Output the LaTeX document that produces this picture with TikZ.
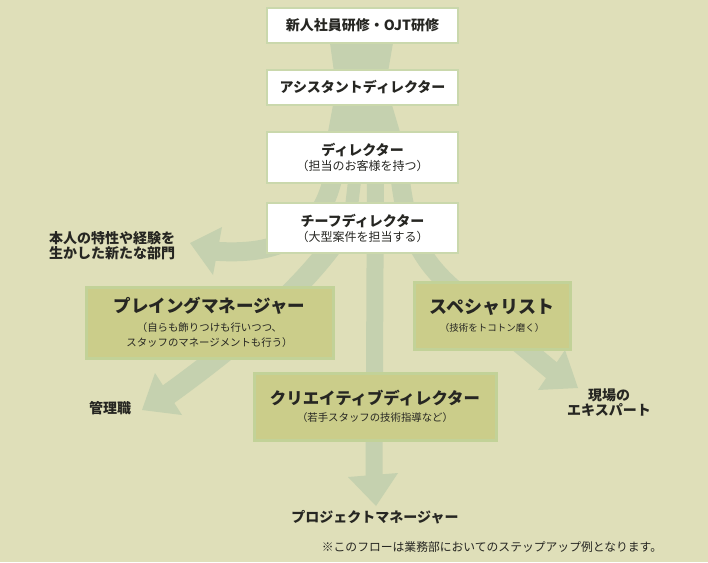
\documentclass[tikz,border=0pt]{standalone}
\usepackage{fontspec}
\setmainfont{Noto Sans CJK JP}
\definecolor{bgolive}{RGB}{223,223,185}
\definecolor{sage}{RGB}{197,209,175}
\definecolor{boxline}{RGB}{202,216,172}
\definecolor{stepfill}{RGB}{203,205,138}
\definecolor{stepline}{RGB}{194,210,152}
\definecolor{ink}{RGB}{38,38,34}
\newcommand{\headfont}{\fontsize{14}{15}\selectfont\bfseries}
\newcommand{\subfont}{\fontsize{12}{15}\selectfont}
\newcommand{\smallfont}{\fontsize{10.4}{15}\selectfont}

\begin{document}
\begin{tikzpicture}[x=1pt,y=-1pt,
  whitebox/.style={draw=boxline,line width=1.5pt,fill=white,minimum width=191pt,inner sep=0pt,align=center,text=ink,font=\subfont},
  greenbox/.style={draw=stepline,line width=3pt,fill=stepfill,inner sep=0pt,align=center,text=ink,font=\smallfont},
  outtext/.style={align=center,text=ink,font=\fontsize{14}{15}\selectfont\bfseries},
  strand/.style={draw=sage,line width=#1}]
  \fill[bgolive] (0,0) rectangle (708,562);
  % trunk and roots
  \fill[sage] (330,25) -- (393,25) -- (393,43) -- (388,72) -- (392,105) -- (400,132) -- (410,170)
    -- (320,170) -- (328,132) -- (333,105) -- (334,72) -- (330,43) -- cycle;
  \coordinate (tipnew) at (190,243);
  \coordinate (tipmgr) at (142,410);
  \coordinate (tippm) at (376,506);
  \coordinate (tipexp) at (578,388);
  \draw[strand=19pt] (336,160) .. controls (326,240) and (275,256) .. (212,251);
  \draw[strand=13pt] (357,160) -- (349,228);
  \draw[strand=21pt] (348,222) .. controls (318,272) and (258,330) .. (166,396);
  \draw[strand=17pt] (375.5,160) -- (374,480);
  \draw[strand=19pt] (398,160) .. controls (404,215) and (410,252) .. (455,290) -- (556,374);
  \fill[sage] (222,227) -- (tipnew) -- (213,275) -- cycle;
  \fill[sage] (155,373) -- (tipmgr) -- (182,415) -- cycle;
  \fill[sage] (348,477) -- (tippm) -- (398,473) -- cycle;
  \fill[sage] (565,350) -- (tipexp) -- (538,390) -- cycle;

  \node[whitebox,minimum height=35pt] (training) at (362.5,25.5) {\headfont 新人社員研修・OJT研修};
  \node[whitebox,minimum height=35pt] (assistant) at (362.5,87.5) {\headfont アシスタントディレクター};
  \node[whitebox,minimum height=51pt] (director) at (362.5,157.5) {\headfont ディレクター\\\subfont （担当のお客様を持つ）};
  \node[whitebox,minimum height=50pt] (chief) at (362.5,228) {\headfont チーフディレクター\\\subfont （大型案件を担当する）};

  \node[greenbox,minimum width=247pt,minimum height=71pt] (playing) at (209.5,322.5)
    {{\fontsize{17.5}{19}\selectfont\bfseries プレイングマネージャー}\\[4.5pt]（自らも飾りつけも行いつつ、\\スタッフのマネージメントも行う）};
  \node[greenbox,minimum width=156pt,minimum height=67pt] (specialist) at (492,315.5)
    {{\fontsize{18}{19}\selectfont\bfseries スペシャリスト}\\[2.5pt]{\fontsize{9.5}{15}\selectfont （技術をトコトン磨く）}};
  \node[greenbox,minimum width=242pt,minimum height=67pt] (creative) at (375,406.5)
    {{\fontsize{16.4}{19}\selectfont\bfseries クリエイティブディレクター}\\[2pt]（若手スタッフの技術指導など）};

  \node[outtext] (newfield) at (112,246) {本人の特性や経験を\\生かした新たな部門};
  \node[outtext] (manager) at (110,408) {管理職};
  \node[outtext] (expert) at (609,403) {現場の\\エキスパート};
  \node[outtext] (projmgr) at (375,517) {プロジェクトマネージャー};
  \node[text=ink,font=\fontsize{11.8}{13}\selectfont] (footnote) at (492,547) {※このフローは業務部においてのステップアップ例となります。};
\end{tikzpicture}
\end{document}
